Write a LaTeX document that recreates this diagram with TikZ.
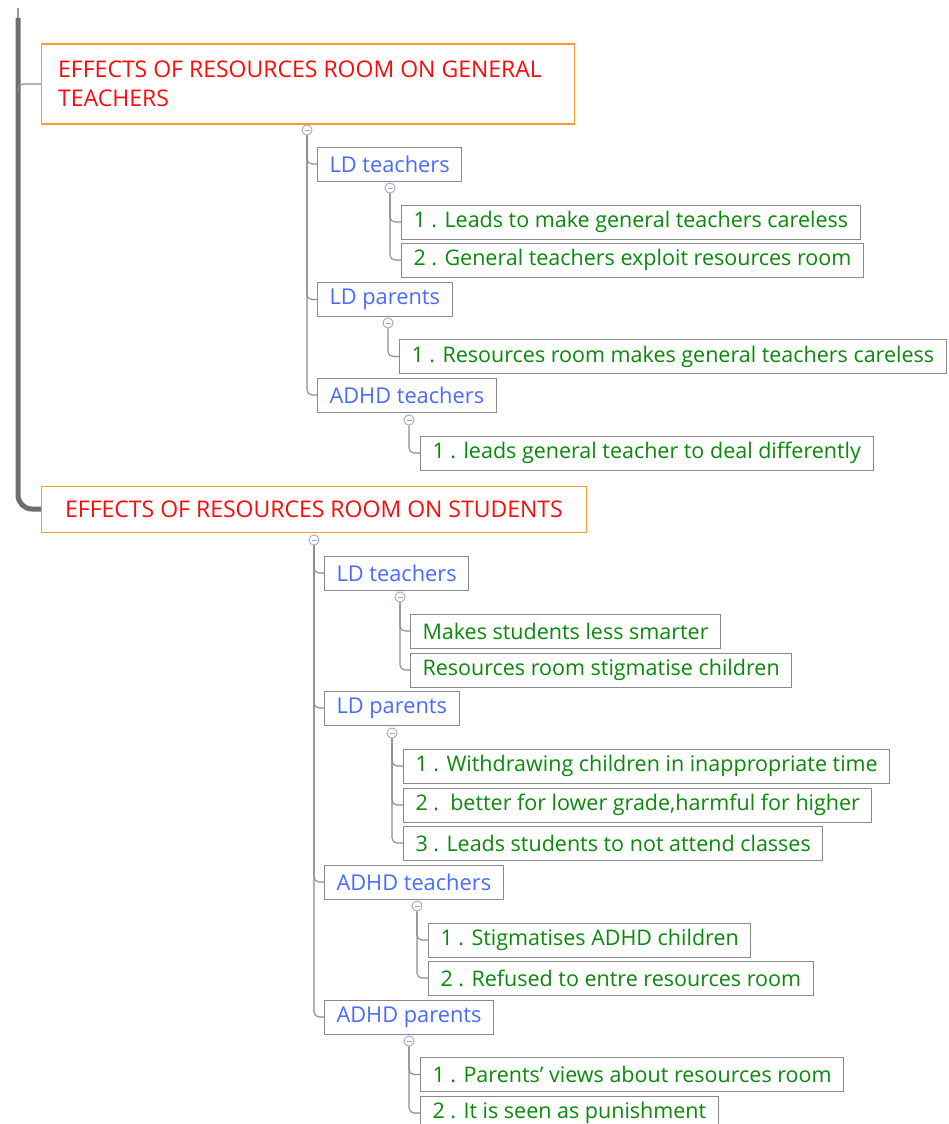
\documentclass[tikz,border=0pt]{standalone}
\usepackage{fontspec}
\setmainfont{Open Sans}
\definecolor{topred}{HTML}{FF0A0A}
\definecolor{topline}{HTML}{FF9A2E}
\definecolor{subblue}{HTML}{4A6BFF}
\definecolor{leafgreen}{HTML}{0A8A0A}
\definecolor{boxgray}{HTML}{8A8A8A}
\definecolor{linkgray}{HTML}{8C8C8C}
\definecolor{trunkgray}{HTML}{6E6E6E}
\definecolor{togc}{HTML}{9AAAD0}
\tikzset{
  topic/.style={draw=topline, line width=1pt, fill=white, text=topred, inner xsep=17pt, inner ysep=2pt, anchor=west, font=\fontsize{23}{30}\selectfont},
  topictext/.style={text=topred, inner sep=0pt, anchor=west, font=\fontsize{23}{30}\selectfont},
  frame/.style={draw=topline, line width=1.2pt},
  sub/.style={draw=boxgray, line width=1pt, fill=white, text=subblue, inner xsep=12pt, inner ysep=2pt, minimum height=34pt, anchor=west, font=\fontsize{21.8}{24}\selectfont},
  leaf/.style={draw=boxgray, line width=1pt, fill=white, text=leafgreen, inner xsep=12pt, inner ysep=2pt, minimum height=34pt, anchor=west, font=\fontsize{21.5}{24}\selectfont},
  link/.style={draw=linkgray, line width=1.1pt, rounded corners=5pt},
  trunk/.style={draw=trunkgray, line width=5pt, rounded corners=14pt},
  tog/.style={circle, draw=togc, line width=0.8pt, fill=white, inner sep=0pt, minimum size=10pt,
    path picture={\draw[togc, line width=1pt] ([xshift=-2.5pt]path picture bounding box.center) -- ([xshift=2.5pt]path picture bounding box.center);}}
}
\begin{document}
\begin{tikzpicture}[x=1pt, y=-1pt]
      \useasboundingbox (0,0) rectangle (948,1124);
      % first topic
      \node[topic, draw=none, minimum width=532pt, minimum height=79pt] (g1) at (41.5,84) {};
      \node[topictext] (g1a) at (58,69) {EFFECTS OF RESOURCES ROOM ON GENERAL};
      \node[topictext] (g1b) at (58,98.5) {TEACHERS};
      \node[tog] (c0) at (307,130) {};
      \node[sub] (t1) at (317,164) {LD teachers};
      \node[tog] (c1) at (390,188) {};
      \node[leaf] (a1) at (401,222) {1 . Leads to make general teachers careless};
      \node[leaf] (a2) at (401,260) {2 . General teachers exploit resources room};
      \node[sub] (t2) at (317,299.5) {LD parents};
      \node[tog] (c2) at (388,323) {};
      \node[leaf] (b1) at (399,356.5) {1 . Resources room makes general teachers careless};
      \node[sub] (t3) at (317,395) {ADHD teachers};
      \node[tog] (c3) at (409,420) {};
      \node[leaf] (d1) at (420,453) {1 . leads general teacher to deal differently};
      % second topic
      \node[topic, minimum height=46pt, minimum width=545pt] (g2) at (41,509) {EFFECTS OF RESOURCES ROOM ON STUDENTS};
      \node[tog] (c4) at (314,540) {};
      \node[sub] (s1) at (324,573) {LD teachers};
      \node[tog] (c5) at (400,597) {};
      \node[leaf] (e1) at (410,631) {Makes students less smarter};
      \node[leaf] (e2) at (410,670) {Resources room stigmatise children};
      \node[sub] (s2) at (324,708) {LD parents};
      \node[tog] (c6) at (392,733) {};
      \node[leaf] (f1) at (403,766) {1 . Withdrawing children in inappropriate time};
      \node[leaf] (f2) at (403,805) {2 .\ \ better for lower grade,harmful for higher};
      \node[leaf] (f3) at (403,843) {3 . Leads students to not attend classes};
      \node[sub] (s3) at (324,882) {ADHD teachers};
      \node[tog] (c7) at (417,906) {};
      \node[leaf] (h1) at (428,940) {1 . Stigmatises ADHD children};
      \node[leaf] (h2) at (428,978) {2 . Refused to entre resources room};
      \node[sub] (s4) at (324,1017) {ADHD parents};
      \node[tog] (c8) at (409,1041) {};
      \node[leaf] (k1) at (420,1074.5) {1 . Parents' views about resources room};
      \node[leaf] (k2) at (420,1113) {2 . It is seen as punishment};
      % main trunk and connectors
      \coordinate (top) at (18,8);
      \coordinate (bar) at (18,18);
      \draw[draw=trunkgray!70, line width=2pt] (top) -- (bar);
      \draw[trunk] (bar) |- (g2.west);
      \draw[link] ([yshift=-8pt]bar |- g1.west) |- (g1.west);
      \foreach \p/\c in {c0/t1,c0/t2,c0/t3,c1/a1,c1/a2,c2/b1,c3/d1,
                         c4/s1,c4/s2,c4/s3,c4/s4,c5/e1,c5/e2,c6/f1,c6/f2,c6/f3,
                         c7/h1,c7/h2,c8/k1,c8/k2}
        \draw[link] (\p.south) |- (\c.west);
      \foreach \n in {c0,c1,c2,c3,c4,c5,c6,c7,c8}
        \node[tog] at (\n) {};
      \draw[frame] (g1.north west) rectangle (g1.south east);
\end{tikzpicture}
\end{document}
